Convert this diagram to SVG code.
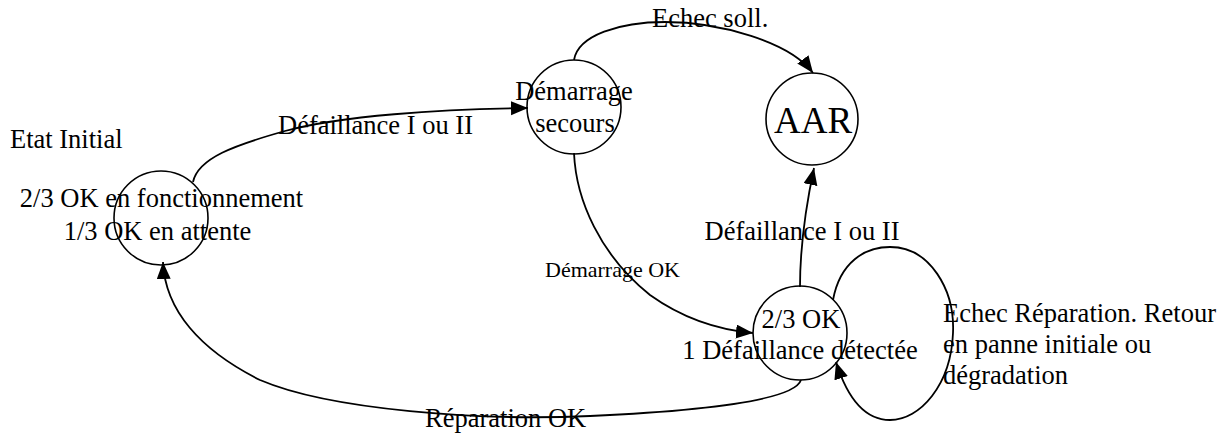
<svg xmlns="http://www.w3.org/2000/svg" width="1232" height="436" viewBox="0 0 1232 436">
<style>
.n{fill:none;stroke:#000;stroke-width:1.6}
.c{fill:none;stroke:#000;stroke-width:1.8}
text{font-family:"Liberation Serif","Times New Roman",serif;font-size:26.5px;fill:#000}
.m{text-anchor:middle}
</style>
<defs>
<marker id="ah" markerUnits="userSpaceOnUse" markerWidth="18" markerHeight="15" refX="17" refY="7" orient="auto">
<path d="M0,0 L17,7 L0,14 z" fill="#000"/>
</marker>
</defs>
<rect width="1232" height="436" fill="#fff"/>
<g id="connectors">
<path class="c" d="M193,182 C198,158 235,145 285,131 C340,116 440,109 528,108" marker-end="url(#ah)"/>
<path class="c" d="M574,60 C578,35 620,22 665,22 C720,22 790,42 813,73" marker-end="url(#ah)"/>
<path class="c" d="M574,153 C576,200 600,255 650,295 C685,320 720,330 753,333" marker-end="url(#ah)"/>
<path class="c" d="M800,287 C800,250 804,215 814,168" marker-end="url(#ah)"/>
<path class="c" d="M801,380 C795,398 720,410 590,416 C480,421 330,410 260,380 C200,350 165,310 163,262" marker-end="url(#ah)"/>
<path class="c" d="M833,300 C840,262 865,247 890,247 C930,247 955,290 953,333 C951,385 920,420 890,420 C866,420 848,400 836,362" marker-end="url(#ah)"/>
<text x="278" y="134">Défaillance I ou II</text>
<text x="652" y="27">Echec soll.</text>
<text x="545" y="277" style="font-size:22px">Démarrage OK</text>
<text x="802" y="240" class="m">Défaillance I ou II</text>
<text x="425" y="427">Réparation OK</text>
<text x="943" y="322">Echec Réparation. Retour</text>
<text x="943" y="353">en panne initiale ou</text>
<text x="943" y="384">dégradation</text>
</g>
<g id="etat-initial">
<circle class="n" cx="161" cy="218" r="47"/>
<text x="10" y="148">Etat Initial</text>
<text x="161.5" y="207" class="m">2/3 OK en fonctionnement</text>
<text x="157.5" y="240" class="m">1/3 OK en attente</text>
</g>
<g id="demarrage-secours">
<circle class="n" cx="574" cy="107" r="47"/>
<text x="574" y="100" class="m">Démarrage</text>
<text x="575" y="132" class="m">secours</text>
</g>
<g id="aar">
<circle class="n" cx="812" cy="119" r="46"/>
<text x="813" y="133" class="m" style="font-size:37px">AAR</text>
</g>
<g id="defaillance-detectee">
<circle class="n" cx="800" cy="333" r="47"/>
<text x="801" y="328" class="m">2/3 OK</text>
<text x="800" y="359" class="m">1 Défaillance détectée</text>
</g>
</svg>
